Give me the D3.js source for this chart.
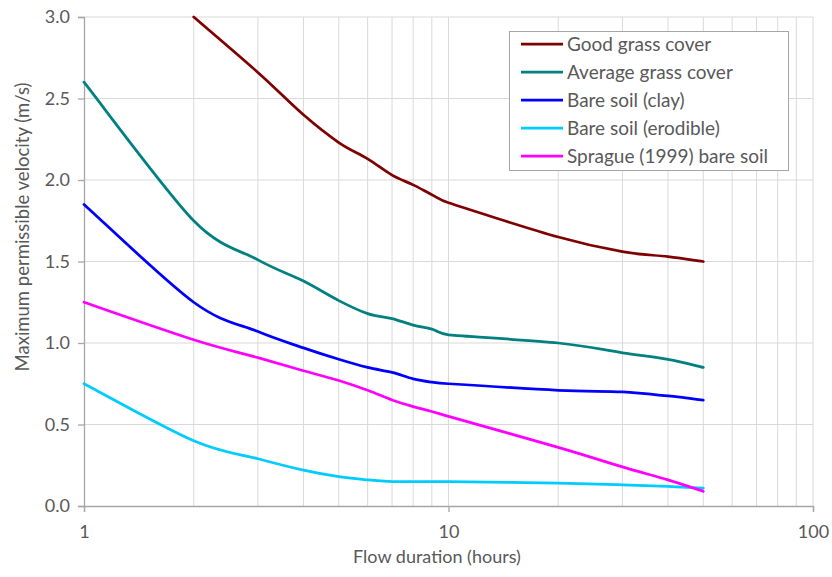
<!DOCTYPE html>
<html>
<head>
<meta charset="utf-8">
<script src="https://cdn.jsdelivr.net/npm/d3@7"></script>
<style>
  body { margin: 0; background: #fff; }
  text { font-family: Lato, "Open Sans", sans-serif; fill: #595959; }
</style>
</head>
<body>
<div id="chart"></div>
<script>
var hours = [1, 2, 3, 4, 5, 6, 7, 8, 9, 10, 20, 30, 40, 50]

var goodGrass = [null, 3.0, 2.66, 2.40, 2.23, 2.13, 2.03, 1.97, 1.91, 1.86, 1.65, 1.56, 1.53, 1.50]
var averageGrass = [2.6, 1.75, 1.51, 1.38, 1.26, 1.18, 1.15, 1.11, 1.085, 1.05, 1.00, 0.94, 0.90, 0.85]
var bareClay = [1.85, 1.25, 1.07, 0.97, 0.90, 0.85, 0.82, 0.78, 0.76, 0.75, 0.71, 0.70, 0.675, 0.65]
var bareErodible = [0.75, 0.40, 0.29, 0.22, 0.18, 0.16, 0.15, 0.15, 0.15, 0.15, 0.14, 0.13, 0.12, 0.11]
var sprague = [1.25, 1.02, 0.91, 0.83, 0.77, 0.71, 0.65, 0.61, 0.58, 0.55, 0.36, 0.24, 0.16, 0.09]

var seriesNames = ["Good grass cover", "Average grass cover", "Bare soil (clay)", "Bare soil (erodible)", "Sprague (1999) bare soil"]
var seriesColors = ["#7f0000", "#008080", "#0000ff", "#00ccff", "#ff00ff"]
var yTicks = [0, 0.5, 1.0, 1.5, 2.0, 2.5, 3.0]
var xMajor = [1, 10, 100]

var series = [goodGrass, averageGrass, bareClay, bareErodible, sprague].map(function (vals, i) {
    return {
        name: seriesNames[i],
        color: seriesColors[i],
        points: hours.map(function (h, j) { return { x: h, y: vals[j] } })
            .filter(function (d) { return d.y !== null })
    }
})

var width = 832, height = 577
var margin = { left: 84, right: 19, top: 17, bottom: 71 }
var fontFamily = "Lato, 'Open Sans', sans-serif"

var svg = d3.select("#chart")
    .append("svg")
    .attr("width", width)
    .attr("height", height)

var x = d3.scaleLog().domain([1, 100]).range([margin.left, width - margin.right])
var y = d3.scaleLinear().domain([0, 3]).range([height - margin.bottom, margin.top])

// minor log grid
var xGrid = []
for (var dec = 1; dec < 100; dec *= 10) {
    for (var k = 1; k <= 10; k++) xGrid.push(dec * k)
}

var grid = svg.append("g").attr("class", "grid")
grid.selectAll("line.v")
    .data(xGrid.filter(function (d) { return d > 1 }))
    .enter()
    .append("line")
    .attr("x1", function (d) { return x(d) })
    .attr("x2", function (d) { return x(d) })
    .attr("y1", y(0))
    .attr("y2", y(3))
    .style("stroke", "#d9d9d9")
    .style("stroke-width", 1)
grid.selectAll("line.h")
    .data(yTicks.filter(function (d) { return d > 0 }))
    .enter()
    .append("line")
    .attr("x1", x(1))
    .attr("x2", x(100))
    .attr("y1", function (d) { return y(d) })
    .attr("y2", function (d) { return y(d) })
    .style("stroke", "#d9d9d9")
    .style("stroke-width", 1)

// axes
var yAxis = svg.append("g")
    .attr("transform", "translate(" + x(1) + ",0)")
    .call(d3.axisLeft(y).tickValues(yTicks).tickFormat(d3.format(".1f")).tickSize(6).tickPadding(8))
var xAxis = svg.append("g")
    .attr("transform", "translate(0," + y(0) + ")")
    .call(d3.axisBottom(x).tickValues(xMajor).tickFormat(d3.format("d")).tickSize(6).tickPadding(13))

;[xAxis, yAxis].forEach(function (ax) {
    ax.select(".domain").style("stroke", "#a6a6a6").style("stroke-width", 1.3)
    ax.selectAll(".tick line").style("stroke", "#a6a6a6").style("stroke-width", 1.3)
    ax.selectAll(".tick text")
        .style("font-family", fontFamily)
        .style("font-size", "18px")
        .style("fill", "#595959")
})

// Excel-style smoothed line: bezier arms of 1/6 of the neighbour chord,
// clipped to half of the shorter adjacent segment
function smoothPath(points) {
    var p = points.map(function (d) { return [x(d.x), y(d.y)] })
    var n = p.length
    var tan = p.map(function (pt, i) {
        var a = p[Math.max(i - 1, 0)], b = p[Math.min(i + 1, n - 1)]
        var dx = b[0] - a[0], dy = b[1] - a[1]
        var len = Math.hypot(dx, dy)
        if (len === 0) return [0, 0]
        var arm = len / 6
        if (i > 0 && i < n - 1) {
            var dl = Math.hypot(pt[0] - a[0], pt[1] - a[1])
            var dr = Math.hypot(b[0] - pt[0], b[1] - pt[1])
            arm = Math.min(arm, dl / 2, dr / 2)
        }
        return [dx / len * arm, dy / len * arm]
    })
    var path = d3.path()
    path.moveTo(p[0][0], p[0][1])
    for (var i = 0; i < n - 1; i++) {
        path.bezierCurveTo(
            p[i][0] + tan[i][0], p[i][1] + tan[i][1],
            p[i + 1][0] - tan[i + 1][0], p[i + 1][1] - tan[i + 1][1],
            p[i + 1][0], p[i + 1][1])
    }
    return path.toString()
}

svg.append("g").attr("class", "series")
    .selectAll("path")
    .data(series)
    .enter()
    .append("path")
    .attr("d", function (d) { return smoothPath(d.points) })
    .style("fill", "none")
    .style("stroke", function (d) { return d.color })
    .style("stroke-width", 2.75)
    .style("stroke-linecap", "round")

// titles
svg.append("text")
    .attr("x", 437)
    .attr("y", 563)
    .attr("text-anchor", "middle")
    .style("font-size", "18px")
    .text("Flow duration (hours)")

svg.append("text")
    .attr("transform", "translate(29,227) rotate(-90)")
    .attr("text-anchor", "middle")
    .style("font-size", "18.5px")
    .text("Maximum permissible velocity (m/s)")

// legend
var legend = svg.append("g").attr("class", "legend")
legend.append("rect")
    .attr("x", 509.5)
    .attr("y", 31.5)
    .attr("width", 279)
    .attr("height", 139)
    .style("fill", "#fff")
    .style("stroke", "#a6a6a6")
    .style("stroke-width", 1)

var items = legend.selectAll("g.item")
    .data(series)
    .enter()
    .append("g")
    .attr("transform", function (d, i) { return "translate(521," + (44 + i * 28) + ")" })
items.append("line")
    .attr("x1", 0).attr("x2", 42)
    .style("stroke", function (d) { return d.color })
    .style("stroke-width", 2.75)
items.append("text")
    .attr("x", 46)
    .attr("dy", "0.35em")
    .style("font-size", "19px")
    .text(function (d) { return d.name })
</script>
</body>
</html>
